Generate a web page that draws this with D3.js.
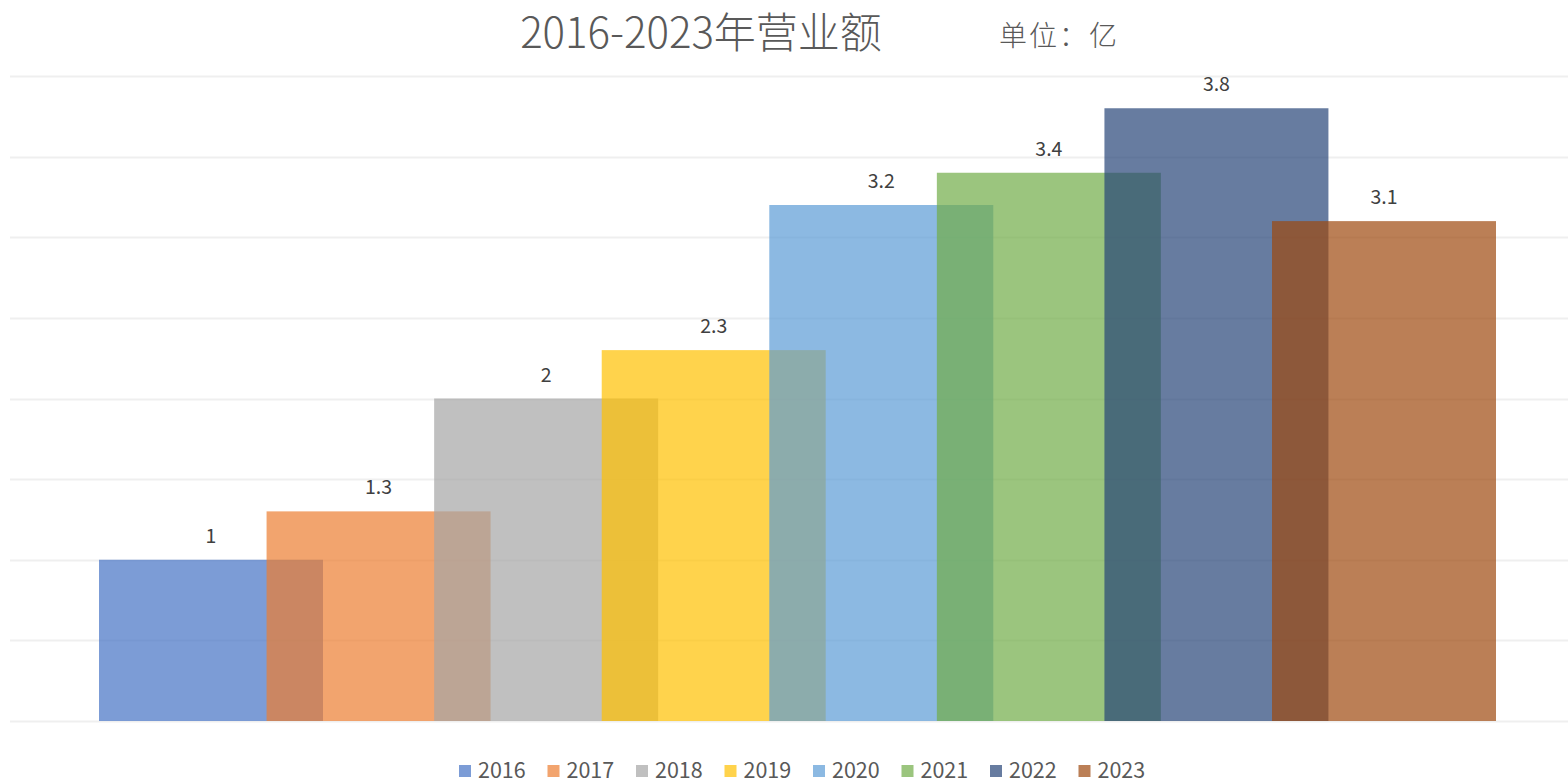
<!DOCTYPE html>
<html>
<head>
<meta charset="utf-8">
<script src="https://cdn.jsdelivr.net/npm/d3@7"></script>
<style>
  html, body { margin: 0; padding: 0; background: #fff; }
  svg { display: block; font-family: "Noto Sans CJK SC", "Noto Sans", sans-serif; }
</style>
</head>
<body>
<svg id="chart" width="1568" height="784"></svg>
<script>
// chart data
const years = ['2016', '2017', '2018', '2019', '2020', '2021', '2022', '2023']
const revenue = [1, 1.3, 2, 2.3, 3.2, 3.4, 3.8, 3.1]
const colors = ['#4472C4', '#ED7D31', '#A5A5A5', '#FFC000', '#5B9BD5', '#70AD47', '#264478', '#9E480E']
const gridTicks = [0, 0.5, 1, 1.5, 2, 2.5, 3, 3.5, 4]

const width = 1568
const height = 784
const svg = d3.select('#chart')

// ------------------
// Scales
// ------------------
const x = d3.scalePoint()
  .domain(years)
  .range([211, 1384])

const barWidth = 224

const y = d3.scaleLinear()
  .domain([0, 4])
  .range([721, 76])

const color = d3.scaleOrdinal()
  .domain(years)
  .range(colors)

const data = years.map((year, i) => ({ year, value: revenue[i] }))

// ------------------
// Gridlines
// ------------------
svg.append('g')
  .selectAll('line')
  .data(gridTicks)
  .join('line')
  .attr('x1', 10)
  .attr('x2', width)
  .attr('y1', d => Math.round(y(d)) + 0.5)
  .attr('y2', d => Math.round(y(d)) + 0.5)
  .attr('stroke', '#efefef')
  .attr('stroke-width', 2)

// ------------------
// Bars (overlapping, semi-transparent)
// ------------------
svg.append('g')
  .selectAll('rect')
  .data(data)
  .join('rect')
  .attr('x', d => x(d.year) - barWidth / 2)
  .attr('y', d => y(d.value))
  .attr('width', barWidth)
  .attr('height', d => y(0) - y(d.value))
  .attr('fill', d => color(d.year))
  .attr('fill-opacity', 0.7)

// value labels
svg.append('g')
  .selectAll('text')
  .data(data)
  .join('text')
  .attr('x', d => x(d.year))
  .attr('y', d => y(d.value) - 17)
  .attr('text-anchor', 'middle')
  .attr('font-size', 19.5)
  .attr('fill', '#404040')
  .text(d => d.value)

// ------------------
// Title
// ------------------
svg.append('text')
  .attr('x', 701)
  .attr('y', 48)
  .attr('text-anchor', 'middle')
  .attr('font-size', 42)
  .attr('font-weight', 300)
  .attr('fill', '#595959')
  .text('2016-2023年营业额')

svg.append('text')
  .attr('x', 999)
  .attr('y', 46)
  .attr('font-size', 28)
  .attr('font-weight', 300)
  .attr('letter-spacing', 2)
  .attr('fill', '#595959')
  .text('单位：亿')

// ------------------
// Legend
// ------------------
const legend = svg.append('g')
  .selectAll('g')
  .data(years)
  .join('g')
  .attr('transform', (d, i) => `translate(${459 + i * 88.5}, 765)`)

legend.append('rect')
  .attr('width', 12)
  .attr('height', 12)
  .attr('fill', d => color(d))
  .attr('fill-opacity', 0.7)

legend.append('text')
  .attr('x', 19)
  .attr('y', 13)
  .attr('font-size', 21.5)
  .attr('fill', '#595959')
  .text(d => d)
</script>
</body>
</html>
